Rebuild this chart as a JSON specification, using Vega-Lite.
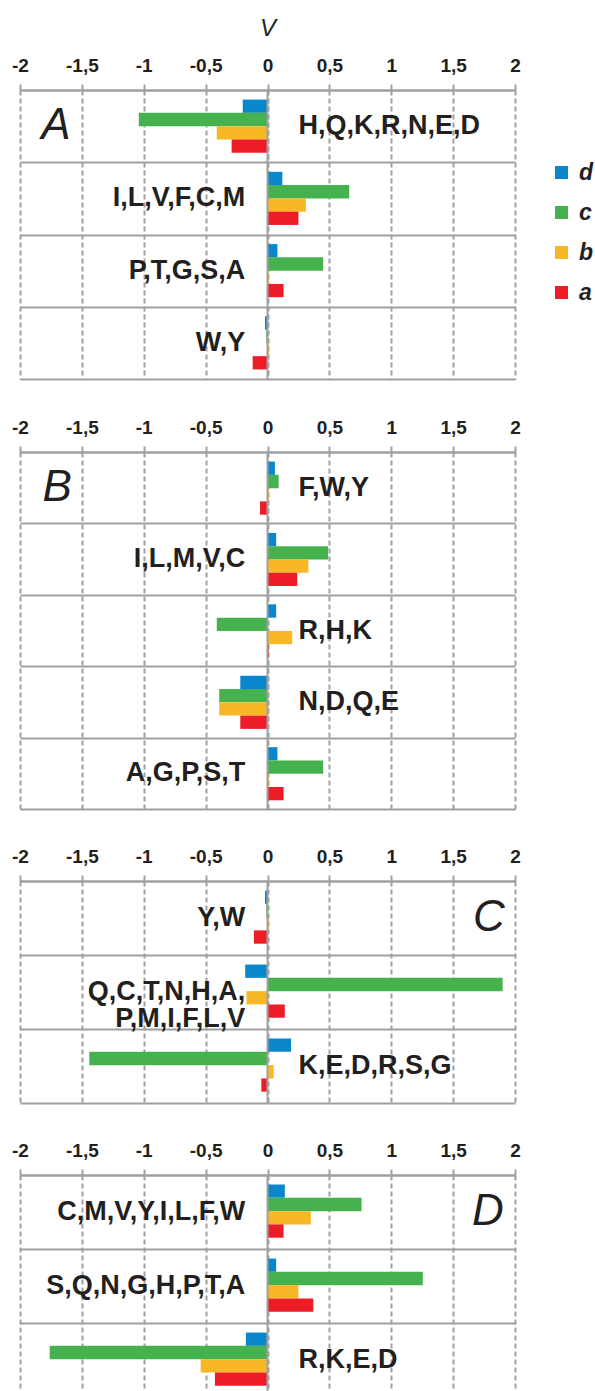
{
  "$schema": "https://vega.github.io/schema/vega-lite/v6.json",
  "padding": {"left": 11, "top": 16, "right": 0, "bottom": 0},
  "background": "white",
  "config": {
    "view": {"stroke": null},
    "font": "Liberation Sans",
    "axisX": {
      "orient": "top",
      "labelFont": "Liberation Sans",
      "labelFontSize": 19,
      "labelFontWeight": "bold",
      "labelColor": "#231f20",
      "labelPadding": 9,
      "labelFlush": false,
      "labelOverlap": false,
      "tickSize": 6,
      "tickWidth": 2,
      "tickColor": "#a0a0a0",
      "domainColor": "#a0a0a0",
      "domainWidth": 2,
      "grid": true,
      "gridColor": "#a0a0a0",
      "gridWidth": 2,
      "gridDash": [5, 3],
      "titleFont": "Liberation Sans",
      "titleFontSize": 24,
      "titleFontStyle": "italic",
      "titleFontWeight": "normal",
      "titleColor": "#231f20",
      "titlePadding": 16
    },
    "axisY": {
      "grid": true,
      "tickBand": "extent",
      "labels": false,
      "ticks": false,
      "domain": false,
      "title": null,
      "gridColor": "#a0a0a0",
      "gridWidth": 2,
      "minExtent": 0,
      "maxExtent": 0
    },
    "legend": {
      "orient": "none",
      "padding": 0,
      "symbolType": "square",
      "symbolSize": 170,
      "symbolStrokeWidth": 0,
      "labelFont": "Liberation Sans",
      "labelFontSize": 23,
      "labelFontStyle": "italic",
      "labelFontWeight": "bold",
      "labelColor": "#231f20",
      "labelOffset": 6,
      "rowPadding": 16
    }
  },
  "datasets": {
    "bars": [
      {"panel": "A", "grp": "H,Q,K,R,N,E,D", "s": "d", "v": -0.2},
      {"panel": "A", "grp": "H,Q,K,R,N,E,D", "s": "c", "v": -1.04},
      {"panel": "A", "grp": "H,Q,K,R,N,E,D", "s": "b", "v": -0.41},
      {"panel": "A", "grp": "H,Q,K,R,N,E,D", "s": "a", "v": -0.29},
      {"panel": "A", "grp": "I,L,V,F,C,M", "s": "d", "v": 0.12},
      {"panel": "A", "grp": "I,L,V,F,C,M", "s": "c", "v": 0.66},
      {"panel": "A", "grp": "I,L,V,F,C,M", "s": "b", "v": 0.31},
      {"panel": "A", "grp": "I,L,V,F,C,M", "s": "a", "v": 0.25},
      {"panel": "A", "grp": "P,T,G,S,A", "s": "d", "v": 0.08},
      {"panel": "A", "grp": "P,T,G,S,A", "s": "c", "v": 0.45},
      {"panel": "A", "grp": "P,T,G,S,A", "s": "b", "v": 0.01},
      {"panel": "A", "grp": "P,T,G,S,A", "s": "a", "v": 0.13},
      {"panel": "A", "grp": "W,Y", "s": "d", "v": -0.02},
      {"panel": "A", "grp": "W,Y", "s": "c", "v": -0.01},
      {"panel": "A", "grp": "W,Y", "s": "b", "v": 0.01},
      {"panel": "A", "grp": "W,Y", "s": "a", "v": -0.12},

      {"panel": "B", "grp": "F,W,Y", "s": "d", "v": 0.06},
      {"panel": "B", "grp": "F,W,Y", "s": "c", "v": 0.09},
      {"panel": "B", "grp": "F,W,Y", "s": "b", "v": 0.01},
      {"panel": "B", "grp": "F,W,Y", "s": "a", "v": -0.06},
      {"panel": "B", "grp": "I,L,M,V,C", "s": "d", "v": 0.07},
      {"panel": "B", "grp": "I,L,M,V,C", "s": "c", "v": 0.49},
      {"panel": "B", "grp": "I,L,M,V,C", "s": "b", "v": 0.33},
      {"panel": "B", "grp": "I,L,M,V,C", "s": "a", "v": 0.24},
      {"panel": "B", "grp": "R,H,K", "s": "d", "v": 0.07},
      {"panel": "B", "grp": "R,H,K", "s": "c", "v": -0.41},
      {"panel": "B", "grp": "R,H,K", "s": "b", "v": 0.2},
      {"panel": "B", "grp": "R,H,K", "s": "a", "v": 0.01},
      {"panel": "B", "grp": "N,D,Q,E", "s": "d", "v": -0.22},
      {"panel": "B", "grp": "N,D,Q,E", "s": "c", "v": -0.39},
      {"panel": "B", "grp": "N,D,Q,E", "s": "b", "v": -0.39},
      {"panel": "B", "grp": "N,D,Q,E", "s": "a", "v": -0.22},
      {"panel": "B", "grp": "A,G,P,S,T", "s": "d", "v": 0.08},
      {"panel": "B", "grp": "A,G,P,S,T", "s": "c", "v": 0.45},
      {"panel": "B", "grp": "A,G,P,S,T", "s": "b", "v": 0.01},
      {"panel": "B", "grp": "A,G,P,S,T", "s": "a", "v": 0.13},

      {"panel": "C", "grp": "Y,W", "s": "d", "v": -0.02},
      {"panel": "C", "grp": "Y,W", "s": "c", "v": -0.01},
      {"panel": "C", "grp": "Y,W", "s": "b", "v": 0.01},
      {"panel": "C", "grp": "Y,W", "s": "a", "v": -0.11},
      {"panel": "C", "grp": "Q,C,T,N,H,A,\nP,M,I,F,L,V", "s": "d", "v": -0.18},
      {"panel": "C", "grp": "Q,C,T,N,H,A,\nP,M,I,F,L,V", "s": "c", "v": 1.9},
      {"panel": "C", "grp": "Q,C,T,N,H,A,\nP,M,I,F,L,V", "s": "b", "v": -0.17},
      {"panel": "C", "grp": "Q,C,T,N,H,A,\nP,M,I,F,L,V", "s": "a", "v": 0.14},
      {"panel": "C", "grp": "K,E,D,R,S,G", "s": "d", "v": 0.19},
      {"panel": "C", "grp": "K,E,D,R,S,G", "s": "c", "v": -1.44},
      {"panel": "C", "grp": "K,E,D,R,S,G", "s": "b", "v": 0.05},
      {"panel": "C", "grp": "K,E,D,R,S,G", "s": "a", "v": -0.05},

      {"panel": "D", "grp": "C,M,V,Y,I,L,F,W", "s": "d", "v": 0.14},
      {"panel": "D", "grp": "C,M,V,Y,I,L,F,W", "s": "c", "v": 0.76},
      {"panel": "D", "grp": "C,M,V,Y,I,L,F,W", "s": "b", "v": 0.35},
      {"panel": "D", "grp": "C,M,V,Y,I,L,F,W", "s": "a", "v": 0.13},
      {"panel": "D", "grp": "S,Q,N,G,H,P,T,A", "s": "d", "v": 0.07},
      {"panel": "D", "grp": "S,Q,N,G,H,P,T,A", "s": "c", "v": 1.255},
      {"panel": "D", "grp": "S,Q,N,G,H,P,T,A", "s": "b", "v": 0.25},
      {"panel": "D", "grp": "S,Q,N,G,H,P,T,A", "s": "a", "v": 0.37},
      {"panel": "D", "grp": "R,K,E,D", "s": "d", "v": -0.175},
      {"panel": "D", "grp": "R,K,E,D", "s": "c", "v": -1.76},
      {"panel": "D", "grp": "R,K,E,D", "s": "b", "v": -0.54},
      {"panel": "D", "grp": "R,K,E,D", "s": "a", "v": -0.425}
    ],
    "rows": [
      {"panel": "A", "grp": "H,Q,K,R,N,E,D", "side": "right"},
      {"panel": "A", "grp": "I,L,V,F,C,M", "side": "left"},
      {"panel": "A", "grp": "P,T,G,S,A", "side": "left"},
      {"panel": "A", "grp": "W,Y", "side": "left"},
      {"panel": "B", "grp": "F,W,Y", "side": "right"},
      {"panel": "B", "grp": "I,L,M,V,C", "side": "left"},
      {"panel": "B", "grp": "R,H,K", "side": "right"},
      {"panel": "B", "grp": "N,D,Q,E", "side": "right"},
      {"panel": "B", "grp": "A,G,P,S,T", "side": "left"},
      {"panel": "C", "grp": "Y,W", "side": "left"},
      {"panel": "C", "grp": "Q,C,T,N,H,A,\nP,M,I,F,L,V", "side": "left"},
      {"panel": "C", "grp": "K,E,D,R,S,G", "side": "right"},
      {"panel": "D", "grp": "C,M,V,Y,I,L,F,W", "side": "left"},
      {"panel": "D", "grp": "S,Q,N,G,H,P,T,A", "side": "left"},
      {"panel": "D", "grp": "R,K,E,D", "side": "right"}
    ]
  },
  "resolve": {"scale": {"color": "independent"}, "legend": {"color": "independent"}},
  "spacing": 38,
  "vconcat": [
    {
      "width": 495,
      "height": 289,
      "layer": [
        {
          "data": {"name": "bars"},
          "transform": [{"filter": "datum.panel === 'A'"}],
          "mark": {"type": "bar"},
          "encoding": {
            "y": {"field": "grp", "type": "nominal", "scale": {"domain": ["H,Q,K,R,N,E,D", "I,L,V,F,C,M", "P,T,G,S,A", "W,Y"], "paddingInner": 0, "paddingOuter": 0}},
            "yOffset": {"field": "s", "type": "nominal", "sort": ["d", "c", "b", "a"], "scale": {"paddingInner": 0, "paddingOuter": 0.72}},
            "x": {
              "field": "v", "type": "quantitative",
              "scale": {"domain": [-2, 2], "nice": false, "zero": false},
              "axis": {"title": "V", "values": [-2, -1.5, -1, -0.5, 0, 0.5, 1, 1.5, 2], "labelExpr": "replace(toString(datum.value), '.', ',')", "labelFontWeight": "bold", "labelFontSize": 19}
            },
            "color": {
              "field": "s", "type": "nominal",
              "scale": {"domain": ["d", "c", "b", "a"], "range": ["#0a87cb", "#45b24f", "#f8b825", "#ec1d27"]},
              "legend": {"title": null, "legendX": 530, "legendY": 71}
            }
          }
        },
        {
          "data": {"values": [{}]},
          "mark": {"type": "rule", "color": "#a0a0a0", "strokeWidth": 2},
          "encoding": {"x": {"datum": 0}}
        },
        {
          "data": {"name": "rows"},
          "transform": [{"filter": "datum.panel === 'A' && datum.side === 'left'"}],
          "mark": {"type": "text", "align": "right", "baseline": "middle", "fontSize": 27, "fontWeight": "bold", "color": "#231f20", "lineBreak": "\n", "lineHeight": 27},
          "encoding": {"y": {"field": "grp", "type": "nominal"}, "x": {"datum": -0.18}, "text": {"field": "grp"}}
        },
        {
          "data": {"name": "rows"},
          "transform": [{"filter": "datum.panel === 'A' && datum.side === 'right'"}],
          "mark": {"type": "text", "align": "left", "baseline": "middle", "fontSize": 27, "fontWeight": "bold", "color": "#231f20", "lineBreak": "\n", "lineHeight": 27},
          "encoding": {"y": {"field": "grp", "type": "nominal"}, "x": {"datum": 0.25}, "text": {"field": "grp"}}
        },
        {
          "data": {"values": [{}]},
          "mark": {"type": "text", "text": "A", "fontSize": 44, "fontStyle": "italic", "align": "center", "baseline": "middle", "color": "#231f20"},
          "encoding": {"x": {"datum": -1.71}, "y": {"datum": "H,Q,K,R,N,E,D", "type": "nominal"}}
        }
      ]
    },
    {
      "spacing": 37,
      "vconcat": [
        {
          "width": 495,
          "height": 357,
          "layer": [
            {
              "data": {"name": "bars"},
              "transform": [{"filter": "datum.panel === 'B'"}],
              "mark": {"type": "bar"},
              "encoding": {
                "y": {"field": "grp", "type": "nominal", "scale": {"domain": ["F,W,Y", "I,L,M,V,C", "R,H,K", "N,D,Q,E", "A,G,P,S,T"], "paddingInner": 0, "paddingOuter": 0}},
                "yOffset": {"field": "s", "type": "nominal", "sort": ["d", "c", "b", "a"], "scale": {"paddingInner": 0, "paddingOuter": 0.72}},
                "x": {
                  "field": "v", "type": "quantitative",
                  "scale": {"domain": [-2, 2], "nice": false, "zero": false},
                  "axis": {"title": null, "values": [-2, -1.5, -1, -0.5, 0, 0.5, 1, 1.5, 2], "labelExpr": "replace(toString(datum.value), '.', ',')", "labelFontWeight": "bold", "labelFontSize": 19}
                },
                "color": {
                  "field": "s", "type": "nominal",
                  "scale": {"domain": ["d", "c", "b", "a"], "range": ["#0a87cb", "#45b24f", "#f8b825", "#ec1d27"]},
                  "legend": null
                }
              }
            },
            {
              "data": {"values": [{}]},
              "mark": {"type": "rule", "color": "#a0a0a0", "strokeWidth": 2},
              "encoding": {"x": {"datum": 0}}
            },
            {
              "data": {"name": "rows"},
              "transform": [{"filter": "datum.panel === 'B' && datum.side === 'left'"}],
              "mark": {"type": "text", "align": "right", "baseline": "middle", "fontSize": 27, "fontWeight": "bold", "color": "#231f20", "lineBreak": "\n", "lineHeight": 27},
              "encoding": {"y": {"field": "grp", "type": "nominal"}, "x": {"datum": -0.18}, "text": {"field": "grp"}}
            },
            {
              "data": {"name": "rows"},
              "transform": [{"filter": "datum.panel === 'B' && datum.side === 'right'"}],
              "mark": {"type": "text", "align": "left", "baseline": "middle", "fontSize": 27, "fontWeight": "bold", "color": "#231f20", "lineBreak": "\n", "lineHeight": 27},
              "encoding": {"y": {"field": "grp", "type": "nominal"}, "x": {"datum": 0.25}, "text": {"field": "grp"}}
            },
            {
              "data": {"values": [{}]},
              "mark": {"type": "text", "text": "B", "fontSize": 44, "fontStyle": "italic", "align": "center", "baseline": "middle", "color": "#231f20"},
              "encoding": {"x": {"datum": -1.7}, "y": {"datum": "F,W,Y", "type": "nominal"}}
            }
          ]
        },
        {
          "width": 495,
          "height": 222,
          "layer": [
            {
              "data": {"name": "bars"},
              "transform": [{"filter": "datum.panel === 'C'"}],
              "mark": {"type": "bar"},
              "encoding": {
                "y": {"field": "grp", "type": "nominal", "scale": {"domain": ["Y,W", "Q,C,T,N,H,A,\nP,M,I,F,L,V", "K,E,D,R,S,G"], "paddingInner": 0, "paddingOuter": 0}},
                "yOffset": {"field": "s", "type": "nominal", "sort": ["d", "c", "b", "a"], "scale": {"paddingInner": 0, "paddingOuter": 0.72}},
                "x": {
                  "field": "v", "type": "quantitative",
                  "scale": {"domain": [-2, 2], "nice": false, "zero": false},
                  "axis": {"title": null, "values": [-2, -1.5, -1, -0.5, 0, 0.5, 1, 1.5, 2], "labelExpr": "replace(toString(datum.value), '.', ',')", "labelFontWeight": "bold", "labelFontSize": 19}
                },
                "color": {
                  "field": "s", "type": "nominal",
                  "scale": {"domain": ["d", "c", "b", "a"], "range": ["#0a87cb", "#45b24f", "#f8b825", "#ec1d27"]},
                  "legend": null
                }
              }
            },
            {
              "data": {"values": [{}]},
              "mark": {"type": "rule", "color": "#a0a0a0", "strokeWidth": 2},
              "encoding": {"x": {"datum": 0}}
            },
            {
              "data": {"name": "rows"},
              "transform": [{"filter": "datum.panel === 'C' && datum.side === 'left'"}],
              "mark": {"type": "text", "align": "right", "baseline": "middle", "fontSize": 27, "fontWeight": "bold", "color": "#231f20", "lineBreak": "\n", "lineHeight": 27},
              "encoding": {"y": {"field": "grp", "type": "nominal"}, "x": {"datum": -0.18}, "text": {"field": "grp"}}
            },
            {
              "data": {"name": "rows"},
              "transform": [{"filter": "datum.panel === 'C' && datum.side === 'right'"}],
              "mark": {"type": "text", "align": "left", "baseline": "middle", "fontSize": 27, "fontWeight": "bold", "color": "#231f20", "lineBreak": "\n", "lineHeight": 27},
              "encoding": {"y": {"field": "grp", "type": "nominal"}, "x": {"datum": 0.25}, "text": {"field": "grp"}}
            },
            {
              "data": {"values": [{}]},
              "mark": {"type": "text", "text": "C", "fontSize": 44, "fontStyle": "italic", "align": "center", "baseline": "middle", "color": "#231f20"},
              "encoding": {"x": {"datum": 1.79}, "y": {"datum": "Y,W", "type": "nominal"}}
            }
          ]
        },
        {
          "width": 495,
          "height": 222,
          "layer": [
            {
              "data": {"name": "bars"},
              "transform": [{"filter": "datum.panel === 'D'"}],
              "mark": {"type": "bar"},
              "encoding": {
                "y": {"field": "grp", "type": "nominal", "scale": {"domain": ["C,M,V,Y,I,L,F,W", "S,Q,N,G,H,P,T,A", "R,K,E,D"], "paddingInner": 0, "paddingOuter": 0}},
                "yOffset": {"field": "s", "type": "nominal", "sort": ["d", "c", "b", "a"], "scale": {"paddingInner": 0, "paddingOuter": 0.72}},
                "x": {
                  "field": "v", "type": "quantitative",
                  "scale": {"domain": [-2, 2], "nice": false, "zero": false},
                  "axis": {"title": null, "values": [-2, -1.5, -1, -0.5, 0, 0.5, 1, 1.5, 2], "labelExpr": "replace(toString(datum.value), '.', ',')", "labelFontWeight": "bold", "labelFontSize": 19}
                },
                "color": {
                  "field": "s", "type": "nominal",
                  "scale": {"domain": ["d", "c", "b", "a"], "range": ["#0a87cb", "#45b24f", "#f8b825", "#ec1d27"]},
                  "legend": null
                }
              }
            },
            {
              "data": {"values": [{}]},
              "mark": {"type": "rule", "color": "#a0a0a0", "strokeWidth": 2},
              "encoding": {"x": {"datum": 0}}
            },
            {
              "data": {"name": "rows"},
              "transform": [{"filter": "datum.panel === 'D' && datum.side === 'left'"}],
              "mark": {"type": "text", "align": "right", "baseline": "middle", "fontSize": 27, "fontWeight": "bold", "color": "#231f20", "lineBreak": "\n", "lineHeight": 27},
              "encoding": {"y": {"field": "grp", "type": "nominal"}, "x": {"datum": -0.18}, "text": {"field": "grp"}}
            },
            {
              "data": {"name": "rows"},
              "transform": [{"filter": "datum.panel === 'D' && datum.side === 'right'"}],
              "mark": {"type": "text", "align": "left", "baseline": "middle", "fontSize": 27, "fontWeight": "bold", "color": "#231f20", "lineBreak": "\n", "lineHeight": 27},
              "encoding": {"y": {"field": "grp", "type": "nominal"}, "x": {"datum": 0.25}, "text": {"field": "grp"}}
            },
            {
              "data": {"values": [{}]},
              "mark": {"type": "text", "text": "D", "fontSize": 44, "fontStyle": "italic", "align": "center", "baseline": "middle", "color": "#231f20"},
              "encoding": {"x": {"datum": 1.78}, "y": {"datum": "C,M,V,Y,I,L,F,W", "type": "nominal"}}
            }
          ]
        }
      ]
    }
  ]
}
